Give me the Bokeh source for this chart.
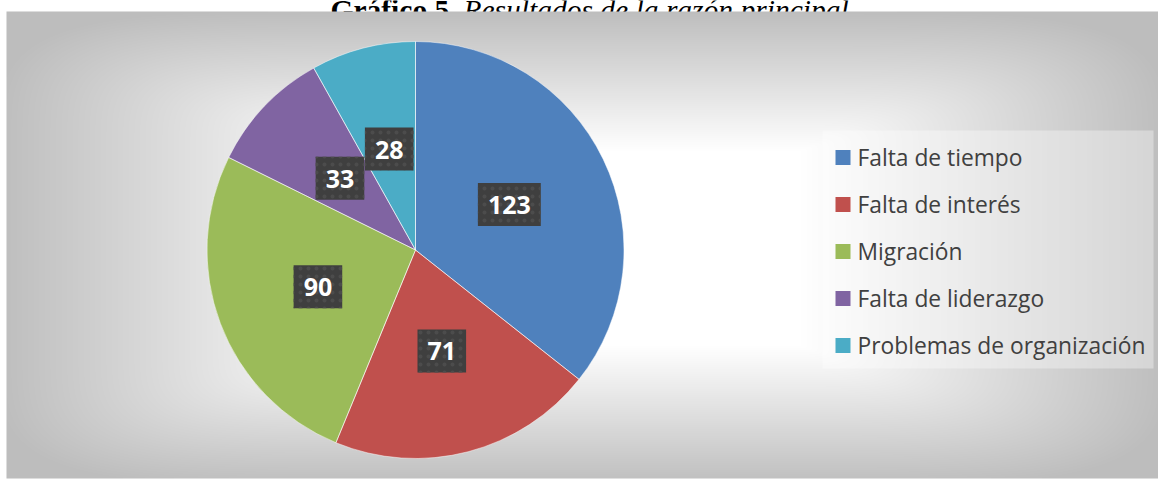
import numpy as np
from bokeh.plotting import figure
from bokeh.models import Range1d, ColumnDataSource
from bokeh.core.properties import value
from bokeh.embed import file_html
from bokeh.resources import INLINE

# ---- data ----
categories = ["Falta de tiempo", "Falta de interés", "Migración",
              "Falta de liderazgo", "Problemas de organización"]
counts = [123, 71, 90, 33, 28]
colors = ["#4F81BD", "#C0504D", "#9BBB59", "#8064A2", "#4BACC6"]
title_bold = "Gráfico 5."
title_italic = "Resultados de la razón principal"

W, H = 1158, 479
p = figure(width=W, height=H, x_range=Range1d(0, W), y_range=Range1d(0, H),
           output_backend="svg", toolbar_location=None, min_border=0,
           x_axis_location=None, y_axis_location=None)
p.grid.visible = False
p.outline_line_color = None
p.background_fill_color = "white"
p.border_fill_color = "white"

# ---- title (partially hidden behind chart area, as in the source) ----
p.text(x=[330], y=[H - 9], text=[title_bold], text_font=value("Liberation Serif"),
       text_font_style="bold", text_font_size="29.5px", text_color="black",
       text_baseline="alphabetic", text_align="left")
p.text(x=[463], y=[H - 9], text=[title_italic], text_font=value("Liberation Serif"),
       text_font_style="italic", text_font_size="29.5px", text_color="black",
       text_baseline="alphabetic", text_align="left")

# ---- chart area background: rectangular path gradient ----
x0, x1, y0, y1 = 6, 1158, 11, 478
gw, gh = x1 - x0, y1 - y0
xs = np.arange(gw) + 0.5 + x0
ys = y1 - (np.arange(gh) + 0.5)
gcx, gcy = 582, 248
tx = np.clip((np.abs(xs - gcx) - 219) / (576 - 219), 0, None)
ty = np.clip((np.abs(ys - gcy) - 98) / (234 - 98), 0, None)
T = (tx[None, :] ** 4 + ty[:, None] ** 4) ** 0.25
g = np.clip(1 - 0.25 * T, 0.745, 1.0)
img = np.empty((gh, gw), dtype=np.uint32)
view = img.view(dtype=np.uint8).reshape((gh, gw, 4))
gv = (g * 255).astype(np.uint8)
view[:, :, 0] = gv
view[:, :, 1] = gv
view[:, :, 2] = gv
view[:, :, 3] = 255
p.image_rgba(image=[img], x=x0, y=H - y1, dw=gw, dh=gh)

# ---- pie ----
total = float(sum(counts))
cum = np.cumsum([0] + counts)
start = [np.pi / 2 - 2 * np.pi * cum[i] / total for i in range(len(counts))]
end = [np.pi / 2 - 2 * np.pi * cum[i + 1] / total for i in range(len(counts))]
pcx, pcy, r = 415, H - 249.5, 208.5
mid = [(a + b) / 2 for a, b in zip(start, end)]
src = ColumnDataSource(dict(
    cat=categories, val=counts, color=colors, start=start, end=end,
    lx=[pcx + 0.5 * r * np.cos(m) for m in mid],
    ly=[pcy + 0.5 * r * np.sin(m) for m in mid],
    lab=[str(v) for v in counts],
))
p.wedge(x=pcx, y=pcy, radius=r, start_angle="start", end_angle="end",
        direction="clock", fill_color="color", line_color=None, source=src)
p.wedge(x=pcx, y=pcy, radius=r, start_angle="start", end_angle="end",
        direction="clock", fill_color=None, line_color="white", line_alpha=0.6,
        line_width=0.8, source=src)

# ---- data labels ----
p.text(x="lx", y="ly", text="lab", source=src, text_font=value("Open Sans"),
       text_font_style="bold", text_font_size="25px", text_color="white",
       text_align="center", text_baseline="middle",
       background_fill_color="#3f3f3f",
       background_hatch_pattern=".", background_hatch_color="#4c4c4c",
       background_hatch_scale=8, background_hatch_weight=1,
       padding=dict(left=10, right=10, top=13, bottom=12))

# ---- legend (drawn box, swatches and labels) ----
leg_top, leg_bottom, leg_left, leg_right = 130, 368, 822, 1153
row0, row_step = 157, 47
leg_src = ColumnDataSource(dict(
    cat=categories, color=colors,
    y=[H - (row0 + row_step * i) for i in range(len(categories))],
))
p.quad(left=leg_left, right=leg_right, top=H - leg_top, bottom=H - leg_bottom,
       fill_color="white", fill_alpha=0.35, line_color=None)
p.rect(x=842.5, y="y", width=15, height=15, fill_color="color", line_color=None,
       source=leg_src)
p.text(x=857, y="y", text="cat", source=leg_src, text_font=value("Open Sans"),
       text_font_size="22.8px", text_color="#404040", text_align="left",
       text_baseline="middle")

open("out.html", "w").write(file_html(p, INLINE))
